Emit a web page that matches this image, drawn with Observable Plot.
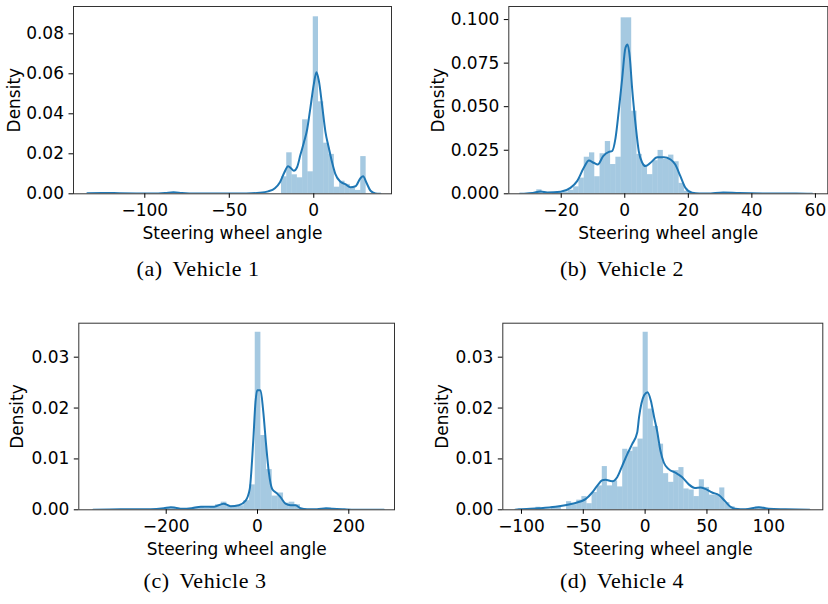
<!DOCTYPE html>
<html><head><meta charset="utf-8">
<script src="https://cdn.jsdelivr.net/npm/d3@7"></script>
<script src="https://cdn.jsdelivr.net/npm/@observablehq/plot@0.6"></script>
<style>
body{margin:0;background:#fff;}
#fig{position:relative;width:828px;height:604px;overflow:hidden;background:#fff;}
.panel{position:absolute;}
.panel svg{overflow:visible;}
.cap{position:absolute;width:240px;text-align:center;font-family:"Liberation Serif",serif;font-size:22px;line-height:22px;letter-spacing:0.5px;color:#000;white-space:nowrap;}
.cap .lbl{margin-right:0.45em;}
</style></head><body><div id="fig"></div>
<script>
// ---------- Vehicle 1 ----------
const hist1Edges = [-19.1, -16.0, -12.8, -9.7, -6.6, -3.4, -0.3, 2.8, 5.9, 9.1, 12.2, 15.3, 18.5, 21.6, 24.7, 27.8, 31.0];
const hist1Dens  = [0.0085, 0.0205, 0.0095, 0.008, 0.037, 0.011, 0.0885, 0.046, 0.0253, 0.0197, 0.0033, 0.0063, 0.0047, 0.003, 0.0017, 0.0186];
const kde1X = [-134, -125, -115, -105, -95, -88, -83, -78, -70, -55, -40, -32, -27, -23, -20, -17.5, -15.2, -13.5, -11.8, -9.8, -7.9, -5.9, -3.9, -2.0, 0, 1.6, 3.0, 4.9, 6.9, 8.9, 10.9, 12.8, 15.8, 18.7, 21.7, 24.7, 27.6, 29.2, 31.2, 33.6, 36.5, 39.5];
const kde1Y = [0.0003, 0.0004, 0.0003, 0.0002, 0.0001, 0.0004, 0.0008, 0.0004, 0.0001, 0.0001, 0.0002, 0.0005, 0.0012, 0.0028, 0.0058, 0.0105, 0.0138, 0.0128, 0.0115, 0.0135, 0.0195, 0.0255, 0.0323, 0.043, 0.0547, 0.0608, 0.0565, 0.0445, 0.031, 0.023, 0.0155, 0.0098, 0.006, 0.0048, 0.0033, 0.0038, 0.0078, 0.0088, 0.0055, 0.0015, 0.0002, 0];
const xTicks1 = [-100, -50, 0];
const yTicks1 = [0, 0.02, 0.04, 0.06, 0.08];

// ---------- Vehicle 2 ----------
const hist2Edges = [-27.70, -26.04, -24.38, -22.72, -21.06, -19.40, -17.74, -16.08, -14.42, -12.76, -11.10, -9.44, -7.78, -6.12, -4.46, -2.80, -1.14, 0.52, 2.18, 3.84, 5.50, 7.16, 8.82, 10.48, 12.14, 13.80, 15.46, 17.12, 18.78, 20.44];
const hist2Dens  = [0.0023, 0, 0, 0.0005, 0.0005, 0.001, 0.002, 0.004, 0.009, 0.021, 0.0235, 0.0098, 0.023, 0.030, 0.0168, 0.021, 0.101, 0.101, 0.0474, 0.0226, 0.0164, 0.011, 0.019, 0.0249, 0.0197, 0.0222, 0.0184, 0.006, 0.0015];
const kde2X = [-33, -31.7, -29, -26.5, -24.4, -20.2, -17.1, -15.0, -12.9, -11.3, -9.8, -8.5, -6.8, -5.0, -4.0, -2.9, -1.9, -0.8, 0.2, 0.9, 1.6, 2.3, 3.4, 4.4, 5.5, 6.5, 8.1, 10.2, 12.3, 14.4, 15.9, 17.5, 19.1, 21.2, 23.5, 26, 31, 36, 43.5, 54, 59];
const kde2Y = [0, 0.0001, 0.0005, 0.0013, 0.0008, 0.0012, 0.0034, 0.0073, 0.0149, 0.0191, 0.0178, 0.0168, 0.0216, 0.0241, 0.0245, 0.0321, 0.0474, 0.0665, 0.0837, 0.0857, 0.078, 0.0608, 0.0398, 0.0245, 0.0178, 0.0159, 0.0178, 0.021, 0.021, 0.0197, 0.0168, 0.0101, 0.0034, 0.0006, 0.0002, 0.0002, 0.0008, 0.0004, 0.0002, 0.0002, 0];
const xTicks2 = [-20, 0, 20, 40, 60];
const yTicks2 = [0, 0.025, 0.05, 0.075, 0.1];

// ---------- Vehicle 3 ----------
const hist3Edges = [-203.4, -191, -178.6, -166.2, -153.8, -141.4, -129, -116.6, -104.2, -91.8, -79.4, -67, -54.6, -42.2, -29.8, -17.4, -5, 7.4, 19.8, 32.2, 44.6, 57, 69.4, 81.8, 94.2, 106.6];
const hist3Dens  = [0.0004, 0.0004, 0, 0, 0.0002, 0.0005, 0.0005, 0.0003, 0.0005, 0.001, 0.0015, 0.0007, 0.0007, 0.0008, 0.0018, 0.0049, 0.0349, 0.0146, 0.0079, 0.0027, 0.0033, 0.0013, 0.0015, 0.001, 0.0002];
const kde3X = [-360, -300, -234, -205, -190, -180, -165, -145, -124, -95, -74, -59, -41, -26, -17, -9.5, -4.4, -0.7, 6.6, 12.4, 19, 24.8, 32.1, 41.6, 50.4, 61.3, 72.3, 83.2, 94.2, 108.8, 130, 150, 165, 190, 230, 277];
const kde3Y = [0, 0.0001, 0.0001, 0.0003, 0.0005, 0.0004, 0.0002, 0.0003, 0.0006, 0.0006, 0.0012, 0.0007, 0.0009, 0.0018, 0.0041, 0.0133, 0.0212, 0.0235, 0.0235, 0.0195, 0.0126, 0.0074, 0.0041, 0.0033, 0.0025, 0.0012, 0.0009, 0.0009, 0.0003, 0.0001, 0.0001, 0.0003, 0.0002, 0.0001, 0, 0];
const xTicks3 = [-200, 0, 200];
const yTicks3 = [0, 0.01, 0.02, 0.03];

// ---------- Vehicle 4 ----------
const hist4Edges = [-88.33, -84.2, -80.07, -75.94, -71.81, -67.68, -63.55, -59.42, -55.29, -51.16, -47.03, -42.9, -38.77, -34.64, -30.51, -26.38, -22.25, -18.12, -13.99, -9.86, -5.73, -1.6, 2.53, 6.66, 10.79, 14.92, 19.05, 23.18, 27.31, 31.44, 35.57, 39.7, 43.83, 47.96, 52.09, 56.22, 60.35, 64.48, 68.61, 72.74, 76.87, 81.0, 85.13, 89.26, 93.39, 97.52];
const hist4Dens  = [0.0005, 0, 0, 0.0006, 0.0006, 0, 0.0016, 0.001, 0.0019, 0.0026, 0.0012, 0.0034, 0.0047, 0.0085, 0.0047, 0.0057, 0.0045, 0.0119, 0.0115, 0.0123, 0.0139, 0.0349, 0.0198, 0.0164, 0.0129, 0.0071, 0.0054, 0.0077, 0.0083, 0.0041, 0.0039, 0.0026, 0.0059, 0.0044, 0.0029, 0.0029, 0.0043, 0.0014, 0.0006, 0, 0, 0, 0, 0.0005, 0.0005];
const kde4X = [-105, -102, -86, -72.5, -59, -48.2, -42.8, -38.8, -34.7, -32.1, -26.7, -22.6, -18.6, -14.5, -10.5, -6.4, -4.9, -0.8, 1.9, 4.6, 7.3, 9.7, 12.4, 15.1, 19.1, 24.5, 30, 35.3, 40.2, 44.8, 48.8, 54.2, 59.6, 65, 69, 73, 81, 92, 100, 113.5, 133];
const kde4Y = [0, 0.0001, 0.0003, 0.0006, 0.0012, 0.0021, 0.0034, 0.0047, 0.0058, 0.0059, 0.0056, 0.0064, 0.0086, 0.0109, 0.0129, 0.0152, 0.0182, 0.0225, 0.0231, 0.0215, 0.0182, 0.0155, 0.0116, 0.0093, 0.008, 0.0073, 0.0064, 0.005, 0.0043, 0.0044, 0.0041, 0.0034, 0.0029, 0.0016, 0.0006, 0.0002, 0.0001, 0.0005, 0.0002, 0.0001, 0];
const xTicks4 = [-100, -50, 0, 50, 100];
const yTicks4 = [0, 0.01, 0.02, 0.03];

const captionTags = ["(a)", "(b)", "(c)", "(d)"];
const captionNames = ["Vehicle 1", "Vehicle 2", "Vehicle 3", "Vehicle 4"];
const xLabel = "Steering wheel angle";
const yLabel = "Density";

const C0 = "#1f77b4";
const fig = document.getElementById("fig");

const panels = [
  {edges: hist1Edges, dens: hist1Dens, kx: kde1X, ky: kde1Y, xTicks: xTicks1, yTicks: yTicks1, yFmt: ".2f",
   xDomain: [-142.2, 46], yDomain: [0, 0.09365],
   left: 0, top: 0, width: 400, height: 250, mt: 6, mb: 56.7, ml: 73, mr: 9, yOff: 66,
   cap: {left: 78, top: 258}},
  {edges: hist2Edges, dens: hist2Dens, kx: kde2X, ky: kde2Y, xTicks: xTicks2, yTicks: yTicks2, yFmt: ".3f",
   xDomain: [-36.5, 63.9], yDomain: [0, 0.1075],
   left: 414, top: 0, width: 414, height: 250, mt: 6, mb: 56.7, ml: 94.3, mr: 0.7, yOff: 76.5,
   cap: {left: 502, top: 258}},
  {edges: hist3Edges, dens: hist3Dens, kx: kde3X, ky: kde3Y, xTicks: xTicks3, yTicks: yTicks3, yFmt: ".2f",
   xDomain: [-391.5, 300.1], yDomain: [0, 0.03668],
   left: 0, top: 312, width: 400, height: 255, mt: 10.7, mb: 57.7, ml: 78.3, mr: 6, yOff: 67.5,
   cap: {left: 85, top: 570}},
  {edges: hist4Edges, dens: hist4Dens, kx: kde4X, ky: kde4Y, xTicks: xTicks4, yTicks: yTicks4, yFmt: ".2f",
   xDomain: [-115.1, 143.7], yDomain: [0, 0.03668],
   left: 414, top: 312, width: 414, height: 255, mt: 10.7, mb: 57.7, ml: 88.3, mr: 5.7, yOff: 67.3,
   cap: {left: 502, top: 570}}
];

panels.forEach((p, i) => {
  const bins = p.dens.map((d, j) => ({x1: p.edges[j], x2: p.edges[j + 1], y: d}));
  const kde = p.kx.map((x, j) => ({x, y: p.ky[j]}));
  const chart = Plot.plot({
    width: p.width, height: p.height,
    marginTop: p.mt, marginBottom: p.mb, marginLeft: p.ml, marginRight: p.mr,
    style: {fontFamily: "'DejaVu Sans', sans-serif", fontSize: "17px", color: "#000", background: "transparent"},
    x: {domain: p.xDomain},
    y: {domain: p.yDomain},
    marks: [
      Plot.rectY(bins, {x1: "x1", x2: "x2", y: "y", fill: C0, fillOpacity: 0.4}),
      Plot.line(kde, {x: "x", y: "y", stroke: C0, strokeWidth: 2, curve: "monotone-x", clip: true}),
      Plot.frame({stroke: "#333", strokeWidth: 1}),
      Plot.axisX({ticks: p.xTicks, tickFormat: d3.format("d"), tickSize: 4.5, tickPadding: 6,
        label: xLabel, labelAnchor: "center", labelArrow: "none", labelOffset: 45}),
      Plot.axisY({ticks: p.yTicks, tickFormat: d3.format(p.yFmt), tickSize: 4.5, tickPadding: 5,
        label: yLabel, labelAnchor: "center", labelArrow: "none", labelOffset: p.yOff})
    ]
  });
  const wrap = document.createElement("div");
  wrap.className = "panel";
  wrap.style.left = p.left + "px";
  wrap.style.top = p.top + "px";
  wrap.appendChild(chart);
  fig.appendChild(wrap);

  const cap = document.createElement("div");
  cap.className = "cap";
  cap.style.left = p.cap.left + "px";
  cap.style.top = p.cap.top + "px";
  const tag = document.createElement("span");
  tag.className = "lbl";
  tag.textContent = captionTags[i];
  const name = document.createElement("span");
  name.textContent = captionNames[i];
  cap.appendChild(tag);
  cap.appendChild(name);
  fig.appendChild(cap);
});
</script></body></html>
